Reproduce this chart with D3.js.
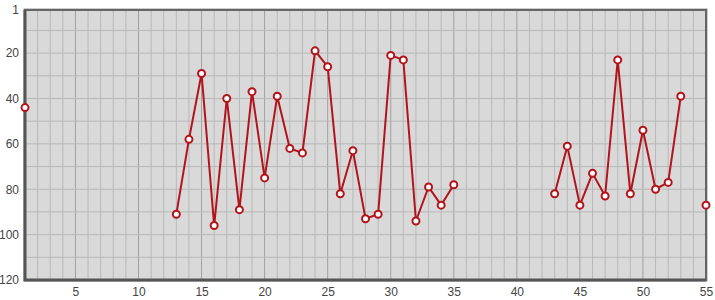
<!DOCTYPE html>
<html>
<head>
<meta charset="utf-8">
<script src="https://cdn.jsdelivr.net/npm/d3@7"></script>
<style>
  body { margin: 0; background: #fff; }
</style>
</head>
<body>
<svg id="chart" width="715" height="300"></svg>
<script>
// x positions 1..55, null where there is no value
const xValues = d3.range(1, 56);
const yValues = [
  44, null, null, null, null, null, null, null, null, null, null, null,
  91, 58, 29, 96, 40, 89, 37, 75, 39, 62, 64, 19, 26, 82, 63, 93, 91, 21,
  23, 94, 79, 87, 78, null, null, null, null, null, null, null,
  82, 61, 87, 73, 83, 23, 82, 54, 80, 77, 39, null, 87
];
const xTicks = [5, 10, 15, 20, 25, 30, 35, 40, 45, 50, 55];
const yTicks = [1, 20, 40, 60, 80, 100, 120];

const data = xValues.map((x, i) => ({ x: x, y: yValues[i] }));

const svg = d3.select('#chart');
const margin = { top: 10, right: 9, bottom: 20, left: 25 };
const width = +svg.attr('width');
const height = +svg.attr('height');
const innerWidth = width - margin.left - margin.right;
const innerHeight = height - margin.top - margin.bottom;

const x = d3.scaleLinear().domain([1, 55]).range([0, innerWidth]);
const y = d3.scaleLinear().domain([1, 120]).range([0, innerHeight]);

const g = svg.append('g')
  .attr('transform', `translate(${margin.left},${margin.top})`);

g.append('rect')
  .attr('width', innerWidth)
  .attr('height', innerHeight)
  .attr('fill', '#d9d9d9');

// vertical grid, every unit, darker every 5
g.selectAll('.vgrid')
  .data(d3.range(2, 55))
  .enter().append('line')
  .attr('x1', d => x(d)).attr('x2', d => x(d))
  .attr('y1', 0).attr('y2', innerHeight)
  .attr('stroke', d => d % 5 === 0 ? '#a0a0a0' : '#b8b8b8')
  .attr('stroke-width', 1);

// horizontal grid every 10
g.selectAll('.hgrid')
  .data(d3.range(10, 120, 10))
  .enter().append('line')
  .attr('x1', 0).attr('x2', innerWidth)
  .attr('y1', d => y(d)).attr('y2', d => y(d))
  .attr('stroke', '#b8b8b8')
  .attr('stroke-width', 1);

// frame
g.append('rect')
  .attr('x', -1).attr('y', -1)
  .attr('width', innerWidth + 2)
  .attr('height', innerHeight + 2)
  .attr('fill', 'none')
  .attr('stroke', '#999')
  .attr('stroke-width', 1);
g.append('rect')
  .attr('width', innerWidth)
  .attr('height', innerHeight)
  .attr('fill', 'none')
  .attr('stroke', '#666')
  .attr('stroke-width', 2);
g.append('path')
  .attr('d', `M0,0V${innerHeight}H${innerWidth}`)
  .attr('fill', 'none')
  .attr('stroke', '#555')
  .attr('stroke-width', 3);

// axes
const xAxis = g.append('g')
  .attr('transform', `translate(0,${innerHeight})`)
  .call(d3.axisBottom(x).tickValues(xTicks).tickSize(0).tickPadding(7));
xAxis.select('.domain').remove();

const yAxis = g.append('g')
  .call(d3.axisLeft(y).tickValues(yTicks).tickSize(0).tickPadding(6));
yAxis.select('.domain').remove();

svg.selectAll('.tick text')
  .attr('font-family', '"Liberation Sans", Arial, sans-serif')
  .attr('font-size', 12)
  .attr('fill', '#444');

// series
const line = d3.line()
  .defined(d => d.y !== null)
  .x(d => x(d.x))
  .y(d => y(d.y));

g.append('path')
  .datum(data)
  .attr('fill', 'none')
  .attr('stroke', '#b3141c')
  .attr('stroke-width', 2)
  .attr('d', line);

g.selectAll('.dot')
  .data(data.filter(d => d.y !== null))
  .enter().append('circle')
  .attr('cx', d => x(d.x))
  .attr('cy', d => y(d.y))
  .attr('r', 3.5)
  .attr('fill', '#fff')
  .attr('stroke', '#b3141c')
  .attr('stroke-width', 2);
</script>
</body>
</html>
